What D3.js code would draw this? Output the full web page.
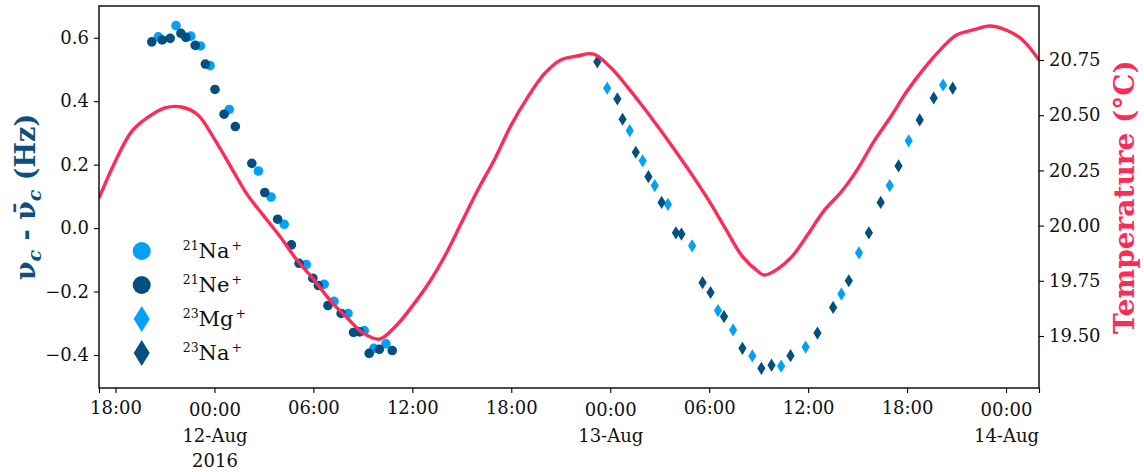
<!DOCTYPE html>
<html><head><meta charset="utf-8">
<script src="https://cdn.jsdelivr.net/npm/d3@7"></script>
<style>body{margin:0;background:#fff} svg{display:block}</style>
</head><body><svg id="chart" width="1144" height="472"></svg>
<script>
// ---------------- data ----------------
const tempTimes = [
 "2016-08-11 17:00","2016-08-11 18:00","2016-08-11 19:00","2016-08-11 20:00","2016-08-11 21:00","2016-08-11 22:00","2016-08-11 23:00",
 "2016-08-12 00:00","2016-08-12 01:00","2016-08-12 02:00","2016-08-12 03:00","2016-08-12 04:00","2016-08-12 05:00","2016-08-12 06:00",
 "2016-08-12 07:00","2016-08-12 08:00","2016-08-12 09:00","2016-08-12 10:00","2016-08-12 11:00","2016-08-12 12:00","2016-08-12 13:00",
 "2016-08-12 14:00","2016-08-12 15:00","2016-08-12 16:00","2016-08-12 17:00","2016-08-12 18:00","2016-08-12 19:00","2016-08-12 20:00",
 "2016-08-12 21:00","2016-08-12 22:00","2016-08-12 23:00","2016-08-13 00:00","2016-08-13 01:00","2016-08-13 02:00","2016-08-13 03:00",
 "2016-08-13 04:00","2016-08-13 05:00","2016-08-13 06:00","2016-08-13 07:00","2016-08-13 08:00","2016-08-13 09:00","2016-08-13 09:20",
 "2016-08-13 10:00","2016-08-13 11:00","2016-08-13 12:00","2016-08-13 13:00","2016-08-13 14:00","2016-08-13 15:00","2016-08-13 16:00",
 "2016-08-13 17:00","2016-08-13 18:00","2016-08-13 19:00","2016-08-13 20:00","2016-08-13 21:00","2016-08-13 22:00","2016-08-13 23:00",
 "2016-08-14 00:00","2016-08-14 01:00","2016-08-14 02:00"];
const tempValues = [
 20.125,20.293,20.428,20.492,20.533,20.537,20.501,
 20.392,20.265,20.139,20.043,19.948,19.844,19.758,
 19.663,19.586,19.514,19.486,19.545,19.636,19.740,
 19.867,20.016,20.166,20.302,20.456,20.582,20.687,
 20.750,20.768,20.777,20.718,20.632,20.537,20.437,
 20.333,20.225,20.111,19.985,19.862,19.790,19.776,
 19.796,19.858,19.962,20.071,20.152,20.256,20.383,
 20.492,20.610,20.709,20.795,20.863,20.886,20.904,
 20.886,20.841,20.750];

const na21Times = ["2016-08-11 20:36","2016-08-11 21:40","2016-08-11 22:34","2016-08-11 23:09","2016-08-11 23:44",
 "2016-08-12 00:54","2016-08-12 02:40","2016-08-12 03:26","2016-08-12 04:14","2016-08-12 05:34","2016-08-12 06:39",
 "2016-08-12 07:15","2016-08-12 08:06","2016-08-12 09:05","2016-08-12 09:40","2016-08-12 10:24"];
const na21Values = [0.603,0.638,0.605,0.574,0.512,0.374,0.180,0.098,0.012,-0.115,-0.177,-0.231,-0.269,-0.323,-0.379,-0.365];

const ne21Times = ["2016-08-11 20:12","2016-08-11 20:50","2016-08-11 21:19","2016-08-11 21:58","2016-08-11 22:16","2016-08-11 22:50",
 "2016-08-11 23:27","2016-08-12 00:02","2016-08-12 00:35","2016-08-12 01:16","2016-08-12 02:16","2016-08-12 03:03",
 "2016-08-12 03:50","2016-08-12 04:40","2016-08-12 05:08","2016-08-12 05:58","2016-08-12 06:18","2016-08-12 06:53",
 "2016-08-12 07:41","2016-08-12 08:26","2016-08-12 08:48","2016-08-12 09:23","2016-08-12 10:00","2016-08-12 10:47"];
const ne21Values = [0.587,0.593,0.598,0.614,0.601,0.576,0.517,0.437,0.359,0.320,0.204,0.112,0.028,-0.053,-0.111,-0.158,-0.181,-0.244,
 -0.269,-0.329,-0.327,-0.395,-0.382,-0.386];

const mg23Times = ["2016-08-12 23:49","2016-08-13 01:11","2016-08-13 01:58","2016-08-13 02:42","2016-08-13 03:30","2016-08-13 04:58",
 "2016-08-13 06:32","2016-08-13 07:27","2016-08-13 08:37","2016-08-13 10:22","2016-08-13 11:51","2016-08-13 14:01",
 "2016-08-13 15:05","2016-08-13 16:57","2016-08-13 18:06","2016-08-13 20:11"];
const mg23Values = [0.441,0.307,0.212,0.134,0.075,-0.056,-0.260,-0.321,-0.403,-0.435,-0.375,-0.208,-0.078,0.134,0.275,0.451];

const na23Times = ["2016-08-12 23:13","2016-08-13 00:26","2016-08-13 00:45","2016-08-13 01:33","2016-08-13 02:19","2016-08-13 03:07",
 "2016-08-13 03:59","2016-08-13 04:19","2016-08-13 05:36","2016-08-13 06:05","2016-08-13 06:54","2016-08-13 08:01",
 "2016-08-13 09:10","2016-08-13 09:47","2016-08-13 10:56","2016-08-13 12:34","2016-08-13 13:31","2016-08-13 14:28",
 "2016-08-13 15:41","2016-08-13 16:24","2016-08-13 17:29","2016-08-13 18:46","2016-08-13 19:37","2016-08-13 20:46"];
const na23Values = [0.524,0.407,0.343,0.239,0.162,0.081,-0.015,-0.019,-0.172,-0.203,-0.279,-0.379,-0.442,-0.432,-0.402,-0.331,
 -0.250,-0.166,-0.015,0.081,0.196,0.341,0.410,0.441];

const xTickTimes = ["2016-08-11 17:00","2016-08-11 18:00","2016-08-12 00:00","2016-08-12 06:00","2016-08-12 12:00","2016-08-12 18:00",
 "2016-08-13 00:00","2016-08-13 06:00","2016-08-13 12:00","2016-08-13 18:00","2016-08-14 00:00","2016-08-14 02:00"];
const xTickLabels = ["","18:00","00:00\n12-Aug\n2016","06:00","12:00","18:00","00:00\n13-Aug","06:00","12:00","18:00","00:00\n14-Aug",""];
const leftTicks = [-0.4,-0.2,0.0,0.2,0.4,0.6];
const rightTicks = [19.50,19.75,20.00,20.25,20.50,20.75];

const seriesNames = ["21Na+","21Ne+","23Mg+","23Na+"];

// ---------------- chart ----------------
const parse = d3.timeParse("%Y-%m-%d %H:%M");
const W = 1144, H = 472, m = {l: 99, r: 105, t: 6, b: 84};
const C_LIGHT = "#03a0f8", C_DARK = "#034f80", C_RED = "#ff2a56";
const FONT = "'DejaVu Serif', serif";

const x = d3.scaleTime().domain([parse("2016-08-11 17:00"), parse("2016-08-14 02:00")]).range([m.l, W - m.r]);
const yL = d3.scaleLinear().domain([-0.504, 0.700]).range([H - m.b, m.t]);
const yR = d3.scaleLinear().domain([19.2645, 20.9946]).range([H - m.b, m.t]);

const svg = d3.select("#chart");
svg.append("defs").append("clipPath").attr("id", "clip")
  .append("rect").attr("x", m.l).attr("y", m.t).attr("width", W - m.l - m.r).attr("height", H - m.t - m.b);

const circleSeries = [
  {name: seriesNames[0], times: na21Times, values: na21Values, color: C_LIGHT},
  {name: seriesNames[1], times: ne21Times, values: ne21Values, color: C_DARK}
];
const diamondSeries = [
  {name: seriesNames[2], times: mg23Times, values: mg23Values, color: C_LIGHT},
  {name: seriesNames[3], times: na23Times, values: na23Values, color: C_DARK}
];
const diamond = (w, h) => `M0,${-h}L${w},0L0,${h}L${-w},0Z`;

const gData = svg.append("g").attr("clip-path", "url(#clip)");
circleSeries.forEach(s => {
  gData.append("g").selectAll("circle").data(s.times.map((t, i) => [parse(t), s.values[i]]))
    .join("circle").attr("cx", d => x(d[0])).attr("cy", d => yL(d[1])).attr("r", 4.8).attr("fill", s.color);
});
diamondSeries.forEach(s => {
  gData.append("g").selectAll("path").data(s.times.map((t, i) => [parse(t), s.values[i]]))
    .join("path").attr("d", diamond(4.1, 6.6))
    .attr("transform", d => `translate(${x(d[0])},${yL(d[1])})`).attr("fill", s.color);
});

// temperature line (twin axis, drawn on top)
const tempData = tempTimes.map((t, i) => [parse(t), tempValues[i]]);
gData.append("path").datum(tempData)
  .attr("d", d3.line().x(d => x(d[0])).y(d => yR(d[1])).curve(d3.curveCatmullRom.alpha(0.5)))
  .attr("fill", "none").attr("stroke", C_RED).attr("stroke-width", 3.4).attr("stroke-linejoin", "round");

// axes
const styleAxis = g => {
  g.select(".domain").remove();
  g.selectAll(".tick line").attr("stroke", "#000").attr("stroke-width", 1.1);
  g.selectAll(".tick text").attr("fill", "#111").style("font-family", FONT).style("font-size", "18px");
};
svg.append("g").attr("transform", `translate(${m.l},0)`)
  .call(d3.axisLeft(yL).tickValues(leftTicks).tickSize(5).tickPadding(5).tickFormat(d3.format(".1f")))
  .call(styleAxis);
svg.append("g").attr("transform", `translate(${W - m.r},0)`)
  .call(d3.axisRight(yR).tickValues(rightTicks).tickSize(5).tickPadding(5).tickFormat(d3.format(".2f")))
  .call(styleAxis);
const gx = svg.append("g").attr("transform", `translate(0,${H - m.b})`)
  .call(d3.axisBottom(x).tickValues(xTickTimes.map(parse)).tickSize(5).tickPadding(6).tickFormat(() => ""))
  .call(styleAxis);
gx.selectAll(".tick text").each(function(d, i) {
  const lines = xTickLabels[i].split("\n");
  const t = d3.select(this).attr("dy", null).attr("y", lines.length > 1 ? 28 : 26);
  lines.forEach((ln, k) => t.append("tspan").attr("x", 0).attr("dy", k === 0 ? 0 : 25.5).text(ln));
});

// frame
svg.append("rect").attr("x", m.l).attr("y", m.t).attr("width", W - m.l - m.r).attr("height", H - m.t - m.b)
  .attr("fill", "none").attr("stroke", "#000").attr("stroke-width", 1.4);

// axis labels
const yl = svg.append("text").attr("transform", `translate(35,${(m.t + H - m.b) / 2}) rotate(-90)`)
  .attr("text-anchor", "middle").attr("fill", "#0d4f7f").style("font-family", FONT).style("font-weight", "bold").style("font-size", "27px");
yl.append("tspan").text("ν");
yl.append("tspan").attr("dy", 6).style("font-size", "19px").style("font-style", "italic").text("c");
yl.append("tspan").attr("dy", -6).text(" - ν\u0304");
yl.append("tspan").attr("dy", 6).style("font-size", "19px").style("font-style", "italic").text("c");
yl.append("tspan").attr("dy", -6).text(" (Hz)");

svg.append("text").attr("transform", `translate(1134,${(m.t + H - m.b) / 2}) rotate(-90)`)
  .attr("text-anchor", "middle").attr("fill", C_RED).style("font-family", FONT).style("font-weight", "bold").style("font-size", "28px")
  .text("Temperature (°C)");

// legend
const legendItems = [
  {name: seriesNames[0], color: C_LIGHT, shape: "circle"},
  {name: seriesNames[1], color: C_DARK, shape: "circle"},
  {name: seriesNames[2], color: C_LIGHT, shape: "diamond"},
  {name: seriesNames[3], color: C_DARK, shape: "diamond"}
];
const lg = svg.append("g");
legendItems.forEach((it, i) => {
  const cy = 251 + i * 34;
  if (it.shape === "circle") lg.append("circle").attr("cx", 141.7).attr("cy", cy).attr("r", 9).attr("fill", it.color);
  else lg.append("path").attr("d", diamond(8, 13)).attr("transform", `translate(141.7,${cy})`).attr("fill", it.color);
  const m2 = it.name.match(/^(\d+)([A-Za-z]+)(\+)$/);
  const t = lg.append("text").attr("x", 182.7).attr("y", cy + 7).attr("fill", "#111").style("font-family", FONT).style("font-size", "21px");
  t.append("tspan").attr("dy", -8).style("font-size", "12.5px").text(m2[1]);
  t.append("tspan").attr("dy", 8).text(m2[2]);
  t.append("tspan").attr("dy", -8).attr("dx", 2).style("font-size", "12.5px").text(m2[3]);
});
</script></body></html>
